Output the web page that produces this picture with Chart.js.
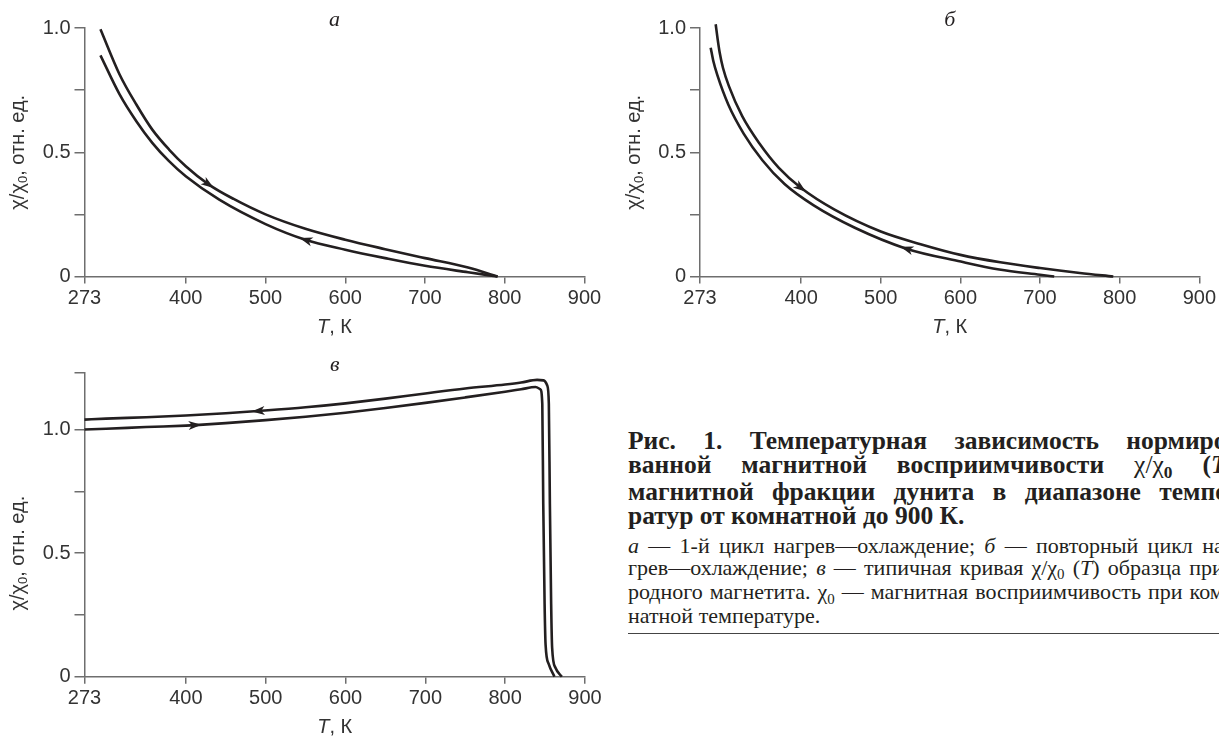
<!DOCTYPE html>
<html>
<head>
<meta charset="utf-8">
<script src="https://cdn.jsdelivr.net/npm/chart.js@4.4.0/dist/chart.umd.min.js"></script>
<style>
  html, body { margin: 0; padding: 0; background: #fff; overflow: hidden; width: 1219px; height: 738px; }
  body { position: relative; }
  canvas { position: absolute; }
  #ca { left: 0; top: 0; }
  #cb { left: 610px; top: 0; }
  #cc { left: 0; top: 340px; }
  .cap { position: absolute; left: 628px; width: 620px; font-family: "Liberation Serif", "Times New Roman", serif; color: #231f20; }
  .cap div { white-space: nowrap; }
  .cap div span.ln { display: inline-block; }
  #capBold { top: 429px; font-size: 25.5px; line-height: 24px; font-weight: bold; }
  #capText { top: 534.5px; font-size: 22px; line-height: 22.3px; }
  .sub { font-size: 0.68em; position: relative; top: 0.3em; }
  #rule { position: absolute; left: 628px; top: 633px; width: 700px; height: 1px; background: #444; }
</style>
</head>
<body>
<canvas id="ca" width="610" height="340"></canvas>
<canvas id="cb" width="609" height="340"></canvas>
<canvas id="cc" width="610" height="398"></canvas>

<div class="cap" id="capBold">
  <div><span class="ln">Рис. 1. Температурная зависимость нормиро-</span></div>
  <div><span class="ln">ванной магнитной восприимчивости <span style="font-weight:normal">χ/χ</span><span class="sub">0</span> (<i>T</i>)</span></div>
  <div><span class="ln">магнитной фракции дунита в диапазоне темпе-</span></div>
  <div class="last"><span class="ln">ратур от комнатной до 900 К.</span></div>
</div>
<div class="cap" id="capText">
  <div><span class="ln"><i>а</i> — 1-й цикл нагрев—охлаждение; <i>б</i> — повторный цикл на-</span></div>
  <div><span class="ln">грев—охлаждение; <i>в</i> — типичная кривая χ/χ<span class="sub">0</span> (<i>T</i>) образца при-</span></div>
  <div><span class="ln">родного магнетита. χ<span class="sub">0</span> — магнитная восприимчивость при ком-</span></div>
  <div class="last"><span class="ln">натной температуре.</span></div>
</div>
<div id="rule"></div>

<script>
const ink = '#231f20';
const axisColor = '#6e6e6e';
const labelColor = '#333';

const xTicks = [273, 400, 500, 600, 700, 800, 900];
const yTicksAB = [0, 0.25, 0.5, 0.75, 1.0];
const yLabelsAB = ['0', '', '0.5', '', '1.0'];
const yTicksC = [0, 0.25, 0.5, 0.75, 1.0, 1.23];
const yLabelsC = ['0', '', '0.5', '', '1.0', ''];

// а — 1st heating/cooling cycle
const aHeatT = [293, 317, 338, 358, 379, 400, 429, 460, 500, 550, 600, 650, 700, 754, 791];
const aHeatY = [0.995, 0.813, 0.692, 0.591, 0.511, 0.444, 0.37, 0.312, 0.25, 0.192, 0.148, 0.11, 0.074, 0.036, 0];
const aCoolT = [293, 317, 338, 358, 379, 400, 442, 500, 550, 600, 650, 700, 754, 791];
const aCoolY = [0.89, 0.733, 0.625, 0.538, 0.464, 0.403, 0.309, 0.211, 0.148, 0.108, 0.074, 0.043, 0.017, 0];
const aHeatArrows = [429];
const aCoolArrows = [550];

// б — repeated cycle
const bHeatT = [292.7, 295.2, 297.7, 301.8, 309.3, 326, 347, 372, 400, 442, 500, 550, 600, 650, 700, 750, 792];
const bHeatY = [1.015, 0.954, 0.901, 0.84, 0.766, 0.645, 0.538, 0.437, 0.356, 0.269, 0.181, 0.13, 0.087, 0.057, 0.034, 0.014, 0];
const bCoolT = [286.4, 289.8, 294.8, 308.5, 328, 351.3, 379.2, 415.8, 467.4, 532, 600.5, 648.8, 700, 717.8];
const bCoolY = [0.921, 0.866, 0.81, 0.692, 0.574, 0.468, 0.372, 0.286, 0.196, 0.112, 0.06, 0.028, 0.007, 0];
const bHeatArrows = [400];
const bCoolArrows = [532];

// в — natural magnetite
const cHeatT = [273, 300, 350, 400, 412, 450, 500, 550, 600, 650, 700, 750, 800, 820, 838, 844, 846.5, 847.7, 849.4, 850.6, 854.7, 861.7];
const cHeatY = [1.0, 1.003, 1.01, 1.016, 1.018, 1.026, 1.038, 1.052, 1.068, 1.087, 1.108, 1.13, 1.153, 1.163, 1.172, 1.163, 1.104, 0.70, 0.293, 0.131, 0.05, 0];
const cCoolT = [273, 300, 350, 400, 450, 490, 550, 600, 650, 700, 750, 800, 820, 840, 848, 852.7, 854.7, 856, 857.6, 858.8, 863, 871];
const cCoolY = [1.04, 1.044, 1.05, 1.057, 1.066, 1.075, 1.09, 1.106, 1.125, 1.146, 1.166, 1.182, 1.19, 1.201, 1.199, 1.178, 1.104, 0.70, 0.293, 0.118, 0.036, 0];
const cHeatArrows = [412];
const cCoolArrows = [490];

const pts = (xs, ys) => xs.map((x, i) => ({ x, y: ys[i] }));

function curve(xs, ys, arrows, dir) {
  return {
    data: pts(xs, ys), showLine: true, borderColor: ink, borderWidth: 2.6,
    pointRadius: 0, cubicInterpolationMode: 'monotone', clip: false,
    arrows, arrowDir: dir
  };
}

const arrowPlugin = {
  id: 'arrows',
  afterDatasetsDraw(chart) {
    const ctx = chart.ctx;
    chart.data.datasets.forEach((ds, i) => {
      if (!ds.arrows) return;
      const el = chart.getDatasetMeta(i).data;
      ds.arrows.forEach(t => {
        const k = ds.data.findIndex(p => p.x === t);
        const p = el[k], q0 = el[Math.max(k - 1, 0)], q1 = el[Math.min(k + 1, el.length - 1)];
        let dx = (q1.x - q0.x) * ds.arrowDir, dy = (q1.y - q0.y) * ds.arrowDir;
        const L = Math.hypot(dx, dy); dx /= L; dy /= L;
        ctx.save();
        ctx.fillStyle = ink;
        ctx.beginPath();
        ctx.moveTo(p.x + dx * 6, p.y + dy * 6);
        ctx.lineTo(p.x - dx * 7 - dy * 4.5, p.y - dy * 7 + dx * 4.5);
        ctx.lineTo(p.x - dx * 3.5, p.y - dy * 3.5);
        ctx.lineTo(p.x - dx * 7 + dy * 4.5, p.y - dy * 7 - dx * 4.5);
        ctx.closePath();
        ctx.fill();
        ctx.restore();
      });
    });
  }
};

function decor(letter) {
  return {
    id: 'decor',
    afterDraw(chart) {
      const { ctx, chartArea: a, scales: { y } } = chart;
      ctx.save();
      // panel letter
      ctx.fillStyle = ink;
      ctx.font = 'italic 22px "Liberation Serif"';
      ctx.textAlign = 'center';
      ctx.textBaseline = 'alphabetic';
      ctx.fillText(letter, (a.left + a.right) / 2, a.top - 2);

      // x title: italic T + ", К"
      ctx.fillStyle = labelColor;
      ctx.textBaseline = 'middle';
      ctx.textAlign = 'left';
      ctx.font = 'italic 20px "Liberation Sans"';
      const w1 = ctx.measureText('T').width;
      ctx.font = '20px "Liberation Sans"';
      const w2 = ctx.measureText(', К').width;
      const x0 = (a.left + a.right) / 2 - (w1 + w2) / 2;
      const ty = a.bottom + 51;
      ctx.font = 'italic 20px "Liberation Sans"';
      ctx.fillText('T', x0, ty);
      ctx.font = '20px "Liberation Sans"';
      ctx.fillText(', К', x0 + w1, ty);

      // y title, rotated
      const parts = [['χ/χ', 20, 0], ['0', 13, 5], [', отн. ед.', 20, 0]];
      let total = 0;
      parts.forEach(([s, f]) => { ctx.font = f + 'px "Liberation Sans"'; total += ctx.measureText(s).width; });
      ctx.translate(a.left - 66, y.getPixelForValue(0.5));
      ctx.rotate(-Math.PI / 2);
      let cx = -total / 2;
      parts.forEach(([s, f, dy]) => {
        ctx.font = f + 'px "Liberation Sans"';
        ctx.fillText(s, cx, dy);
        cx += ctx.measureText(s).width;
      });
      ctx.restore();
    }
  };
}

function makePanel(id, letter, datasets, box, yTicks, yLabels, yMax) {
  const canvas = document.getElementById(id);
  const tickFont = { family: 'Liberation Sans', size: 20 };
  return new Chart(canvas, {
    type: 'scatter',
    data: { datasets },
    options: {
      responsive: false,
      animation: false,
      devicePixelRatio: 1,
      layout: { padding: { top: box.top, right: box.right, left: 0, bottom: 0 } },
      plugins: { legend: { display: false }, tooltip: { enabled: false } },
      scales: {
        x: {
          type: 'linear', min: 273, max: 900,
          afterBuildTicks: s => { s.ticks = xTicks.map(v => ({ value: v })); },
          afterFit: s => { s.height = box.xh; },
          border: { color: axisColor, width: 1.5 },
          grid: { drawOnChartArea: false, drawTicks: true, tickLength: 7, color: axisColor, lineWidth: 1.5 },
          ticks: { color: labelColor, font: tickFont, padding: 3, maxRotation: 0, autoSkip: false, callback: v => String(v) }
        },
        y: {
          type: 'linear', min: 0, max: yMax,
          afterBuildTicks: s => { s.ticks = yTicks.map(v => ({ value: v })); },
          afterFit: s => { s.width = box.yw; },
          border: { color: axisColor, width: 1.5 },
          grid: { drawOnChartArea: false, drawTicks: true, tickLength: 10, color: axisColor, lineWidth: 1.5 },
          ticks: { color: labelColor, font: tickFont, padding: 4, autoSkip: false, callback: v => yLabels[yTicks.indexOf(v)] ?? '' }
        }
      }
    },
    plugins: [arrowPlugin, decor(letter)]
  });
}

makePanel('ca', 'а', [
  curve(aHeatT, aHeatY, aHeatArrows, 1),
  curve(aCoolT, aCoolY, aCoolArrows, -1)
], { top: 28, right: 25.5, yw: 84.5, xh: 63.5 }, yTicksAB, yLabelsAB, 1.0);

makePanel('cb', 'б', [
  curve(bHeatT, bHeatY, bHeatArrows, 1),
  curve(bCoolT, bCoolY, bCoolArrows, -1)
], { top: 28, right: 18.5, yw: 90, xh: 63.5 }, yTicksAB, yLabelsAB, 1.0);

makePanel('cc', 'в', [
  curve(cHeatT, cHeatY, cHeatArrows, 1),
  curve(cCoolT, cCoolY, cCoolArrows, -1)
], { top: 32.7, right: 25, yw: 84.5, xh: 61.3 }, yTicksC, yLabelsC, 1.23);

// justify caption lines to a fixed column width by spreading word gaps
document.querySelectorAll('.cap div').forEach(div => {
  if (div.classList.contains('last')) return;
  const colWidth = div.parentElement.id === 'capBold' ? 607 : 603;
  const ln = div.querySelector('.ln');
  const gaps = (ln.textContent.match(/ /g) || []).length;
  const extra = colWidth - ln.getBoundingClientRect().width;
  if (gaps > 0) ln.style.wordSpacing = (extra / gaps) + 'px';
});
</script>
</body>
</html>
